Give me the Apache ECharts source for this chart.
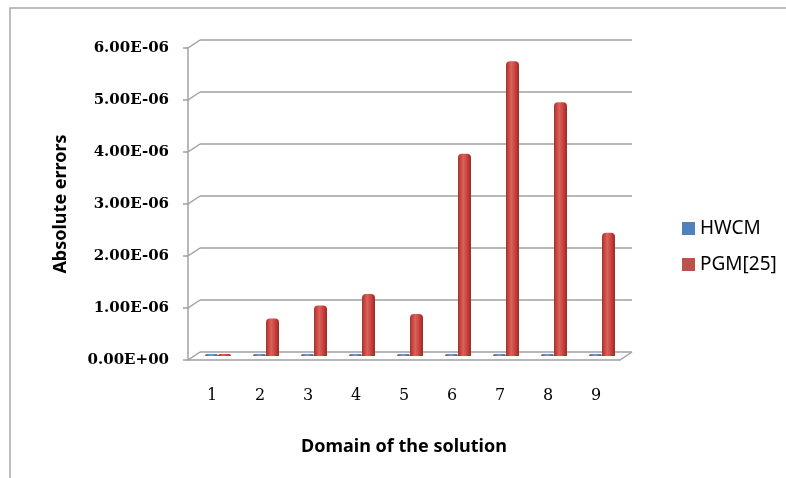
<!DOCTYPE html>
<html>
<head>
<meta charset="utf-8">
<script src="https://cdn.jsdelivr.net/npm/echarts@6/dist/echarts.min.js"></script>
<style>
  html, body { margin: 0; padding: 0; background: #fff; }
  #chart { width: 786px; height: 478px; }
</style>
</head>
<body>
<div id="chart"></div>
<script>
// data
var domains = ['1', '2', '3', '4', '5', '6', '7', '8', '9'];
var hwcm = [1e-9, 1e-9, 1e-9, 1e-9, 1e-9, 1e-9, 1e-9, 1e-9, 1e-9];
var pgm = [2e-9, 7.2e-7, 9.7e-7, 1.19e-6, 8.1e-7, 3.89e-6, 5.67e-6, 4.88e-6, 2.37e-6];
var yTicks = [0, 1e-6, 2e-6, 3e-6, 4e-6, 5e-6, 6e-6];

function sci(v) {
    if (v === 0) return '0.00E+00';
    var s = v.toExponential(2).toUpperCase();
    var parts = s.split('E');
    var sign = parts[1].charAt(0);
    var exp = parts[1].slice(1);
    if (exp.length < 2) exp = '0' + exp;
    return parts[0] + 'E' + sign + exp;
}

var myChart = echarts.init(document.getElementById('chart'));

var gridW = 432, gridH = 312;
var grayLine = '#a0a0a0';

var option = {
    animation: false,
    color: ['#4f81bd', '#c0504d'],
    legend: {
        orient: 'vertical',
        left: 677,
        top: 214,
        itemWidth: 13,
        itemHeight: 13,
        itemGap: 17,
        icon: 'rect',
        textStyle: { fontFamily: 'Noto Sans', fontSize: 19, color: '#000' },
        data: [
            { name: 'HWCM', itemStyle: { color: '#4f81bd' } },
            { name: 'PGM[25]', itemStyle: { color: '#c0504d' } }
        ]
    },
    grid: [
        // back wall
        { left: 200, top: 40, width: gridW, height: gridH },
        // middle (bars)
        { left: 194, top: 44, width: gridW, height: gridH },
        // front (axes)
        { left: 188, top: 48, width: gridW, height: gridH }
    ],
    xAxis: [
        { gridIndex: 0, type: 'category', data: domains, axisLine: { show: false },
          axisTick: { show: false }, axisLabel: { show: false } },
        { gridIndex: 1, type: 'category', data: domains, show: false },
        { gridIndex: 2, type: 'category', data: domains,
          axisLine: { show: true, lineStyle: { color: grayLine, width: 1.5 } },
          axisTick: { show: false },
          axisLabel: { margin: 28, fontFamily: 'DejaVu Serif', fontSize: 16, color: '#000' },
          name: 'Domain of the solution', nameLocation: 'middle', nameGap: 78,
          nameTextStyle: { fontFamily: 'Noto Sans', fontWeight: 'bold', fontSize: 18, color: '#000' } }
    ],
    yAxis: [
        { gridIndex: 0, type: 'value', min: 0, max: 6e-6, interval: 1e-6,
          axisLine: { show: false },
          axisTick: { show: false }, axisLabel: { show: false },
          splitLine: { show: true, lineStyle: { color: grayLine, width: 1.5 } } },
        { gridIndex: 1, type: 'value', min: 0, max: 6e-6, interval: 1e-6, show: false },
        { gridIndex: 2, type: 'value', min: 0, max: 6e-6, interval: 1e-6,
          axisLine: { show: true, lineStyle: { color: grayLine, width: 1.5 } },
          axisTick: { show: true, length: 5, lineStyle: { color: grayLine, width: 1.5 } },
          splitLine: { show: false },
          axisLabel: { margin: 19, formatter: sci, fontFamily: 'DejaVu Serif',
                       fontWeight: 'bold', fontSize: 15, color: '#000', padding: [4, 0, 0, 0] },
          name: 'Absolute errors', nameLocation: 'middle', nameGap: 118,
          nameTextStyle: { fontFamily: 'Noto Sans', fontWeight: 'bold', fontSize: 18, color: '#000' } }
    ],
    series: [
        {
            name: 'HWCM',
            type: 'bar',
            xAxisIndex: 1,
            yAxisIndex: 1,
            data: hwcm,
            barWidth: 13,
            barGap: '0%',
            barMinHeight: 2,
            itemStyle: {
                color: new echarts.graphic.LinearGradient(0, 0, 1, 0, [
                    { offset: 0, color: '#3a6a9e' },
                    { offset: 0.45, color: '#6f9fd6' },
                    { offset: 1, color: '#3a6a9e' }
                ]),
                borderRadius: [3, 3, 0, 0]
            }
        },
        {
            name: 'PGM[25]',
            type: 'bar',
            xAxisIndex: 1,
            yAxisIndex: 1,
            data: pgm,
            barWidth: 13,
            barGap: '0%',
            barMinHeight: 2,
            itemStyle: {
                color: new echarts.graphic.LinearGradient(0, 0, 1, 0, [
                    { offset: 0, color: '#a8302c' },
                    { offset: 0.4, color: '#e0605a' },
                    { offset: 0.7, color: '#c9433e' },
                    { offset: 1, color: '#9a2a27' }
                ]),
                borderRadius: [4, 4, 0, 0]
            }
        }
    ]
};

myChart.setOption(option);

// outer frame + the diagonal joins between front axis and back wall
var decor = [{
    type: 'rect',
    shape: { x: 10, y: 8, width: 800, height: 500 },
    style: { fill: 'none', stroke: '#a8a8a8', lineWidth: 1.5 },
    silent: true
}];
yTicks.forEach(function (v) {
    var yF = myChart.convertToPixel({ yAxisIndex: 2 }, v);
    var yB = myChart.convertToPixel({ yAxisIndex: 0 }, v);
    decor.push({
        type: 'line',
        shape: { x1: 188, y1: yF, x2: 200, y2: yB },
        style: { stroke: grayLine, lineWidth: 1.5 },
        silent: true
    });
});
// right end of the floor
var y0F = myChart.convertToPixel({ yAxisIndex: 2 }, 0);
var y0B = myChart.convertToPixel({ yAxisIndex: 0 }, 0);
decor.push({
    type: 'line',
    shape: { x1: 188 + gridW, y1: y0F, x2: 200 + gridW, y2: y0B },
    style: { stroke: grayLine, lineWidth: 1.5 },
    silent: true
});
myChart.setOption({ graphic: decor });
</script>
</body>
</html>
